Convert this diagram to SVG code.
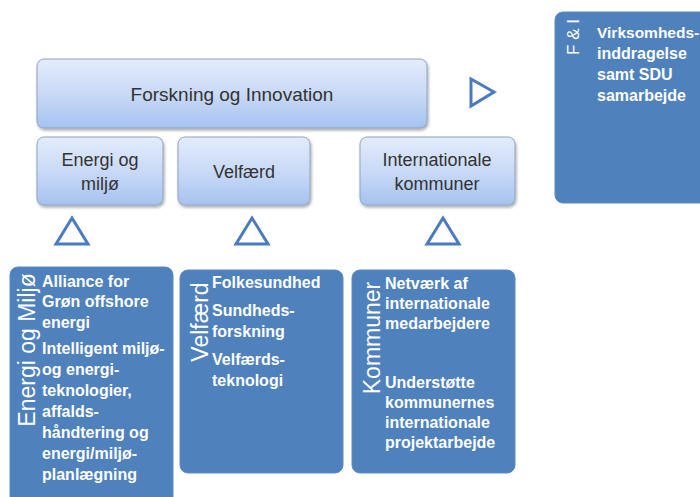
<svg xmlns="http://www.w3.org/2000/svg" width="700" height="497" viewBox="0 0 700 497">
  <defs>
    <linearGradient id="lightGrad" x1="0" y1="0" x2="0" y2="1">
      <stop offset="0" stop-color="#E3ECFB"/>
      <stop offset="0.5" stop-color="#C9DAF7"/>
      <stop offset="1" stop-color="#A6C2F0"/>
    </linearGradient>
    <filter id="shadow" x="-10%" y="-10%" width="120%" height="130%">
      <feGaussianBlur in="SourceAlpha" stdDeviation="1.5"/>
      <feOffset dx="1" dy="2" result="b"/>
      <feComponentTransfer><feFuncA type="linear" slope="0.35"/></feComponentTransfer>
      <feMerge><feMergeNode/><feMergeNode in="SourceGraphic"/></feMerge>
    </filter>
  </defs>
  <style>
    .light { fill: url(#lightGrad); stroke: #8EA3C2; stroke-width: 1; filter: url(#shadow); }
    .dark { fill: #4F81BD; stroke: #5A8AC4; stroke-width: 1; }
    .ltxt { font-family: "Liberation Sans", Arial, sans-serif; font-size: 18px; fill: #333333; text-anchor: middle; }
    .body { font-family: "Liberation Sans", Arial, sans-serif; font-size: 16px; font-weight: bold; fill: #FFFFFF; }
    .vlab { font-family: "Liberation Sans", Arial, sans-serif; font-size: 23px; fill: #FFFFFF; text-anchor: middle; }
    .tri { fill: #FFFFFF; stroke: #4A7BBE; stroke-width: 3; stroke-linejoin: miter; }
  </style>

  <g id="forskning-innovation">
    <rect class="light" x="37" y="59" width="390" height="69" rx="7"/>
    <text class="ltxt" x="232" y="101" style="font-size:19px">Forskning og Innovation</text>
  </g>

  <g id="energi-miljo">
    <rect class="light" x="37" y="137" width="126" height="68" rx="7"/>
    <text class="ltxt" x="100" y="166">Energi og</text>
    <text class="ltxt" x="100" y="190">miljø</text>
  </g>

  <g id="velfaerd">
    <rect class="light" x="178" y="137" width="132" height="68" rx="7"/>
    <text class="ltxt" x="244" y="178">Velfærd</text>
  </g>

  <g id="internationale-kommuner">
    <rect class="light" x="360" y="137" width="155" height="68" rx="7"/>
    <text class="ltxt" x="437" y="166">Internationale</text>
    <text class="ltxt" x="437" y="190">kommuner</text>
  </g>

  <g id="connectors">
    <polygon class="tri" points="72,218 56,244 88,244"/>
    <polygon class="tri" points="252,218 236,244 268,244"/>
    <polygon class="tri" points="443,218 427,244 459,244"/>
    <polygon class="tri" points="471,79 471,106 494,92"/>
  </g>

  <g id="fi-box">
    <rect class="dark" x="555" y="12" width="160" height="191" rx="8"/>
    <text class="vlab" style="font-size:17px" transform="translate(579,37) rotate(-90)">F &amp; I</text>
    <text class="body" x="597" y="38" style="font-size:15.5px">Virksomheds-</text>
    <text class="body" x="597" y="59">inddragelse</text>
    <text class="body" x="597" y="80">samt SDU</text>
    <text class="body" x="597" y="101">samarbejde</text>
  </g>

  <g id="energi-miljo-box">
    <rect class="dark" x="10" y="267" width="163" height="250" rx="8"/>
    <text class="vlab" transform="translate(35,350) rotate(-90)">Energi og Miljø</text>
    <text class="body" x="42" y="287">Alliance for</text>
    <text class="body" x="42" y="307">Grøn offshore</text>
    <text class="body" x="42" y="328">energi</text>
    <text class="body" x="42" y="354">Intelligent miljø-</text>
    <text class="body" x="42" y="375">og energi-</text>
    <text class="body" x="42" y="396">teknologier,</text>
    <text class="body" x="42" y="417">affalds-</text>
    <text class="body" x="42" y="438">håndtering og</text>
    <text class="body" x="42" y="459">energi/miljø-</text>
    <text class="body" x="42" y="480">planlægning</text>
  </g>

  <g id="velfaerd-box">
    <rect class="dark" x="180" y="270" width="163" height="203" rx="8"/>
    <text class="vlab" transform="translate(208,322) rotate(-90)">Velfærd</text>
    <text class="body" x="212" y="288">Folkesundhed</text>
    <text class="body" x="212" y="316">Sundheds-</text>
    <text class="body" x="212" y="337">forskning</text>
    <text class="body" x="212" y="365">Velfærds-</text>
    <text class="body" x="212" y="386">teknologi</text>
  </g>

  <g id="kommuner-box">
    <rect class="dark" x="352" y="270" width="163" height="203" rx="8"/>
    <text class="vlab" transform="translate(380,338) rotate(-90)">Kommuner</text>
    <text class="body" x="385" y="289">Netværk af</text>
    <text class="body" x="385" y="309">internationale</text>
    <text class="body" x="385" y="329">medarbejdere</text>
    <text class="body" x="385" y="388">Understøtte</text>
    <text class="body" x="385" y="408">kommunernes</text>
    <text class="body" x="385" y="428">internationale</text>
    <text class="body" x="385" y="448">projektarbejde</text>
  </g>
</svg>
